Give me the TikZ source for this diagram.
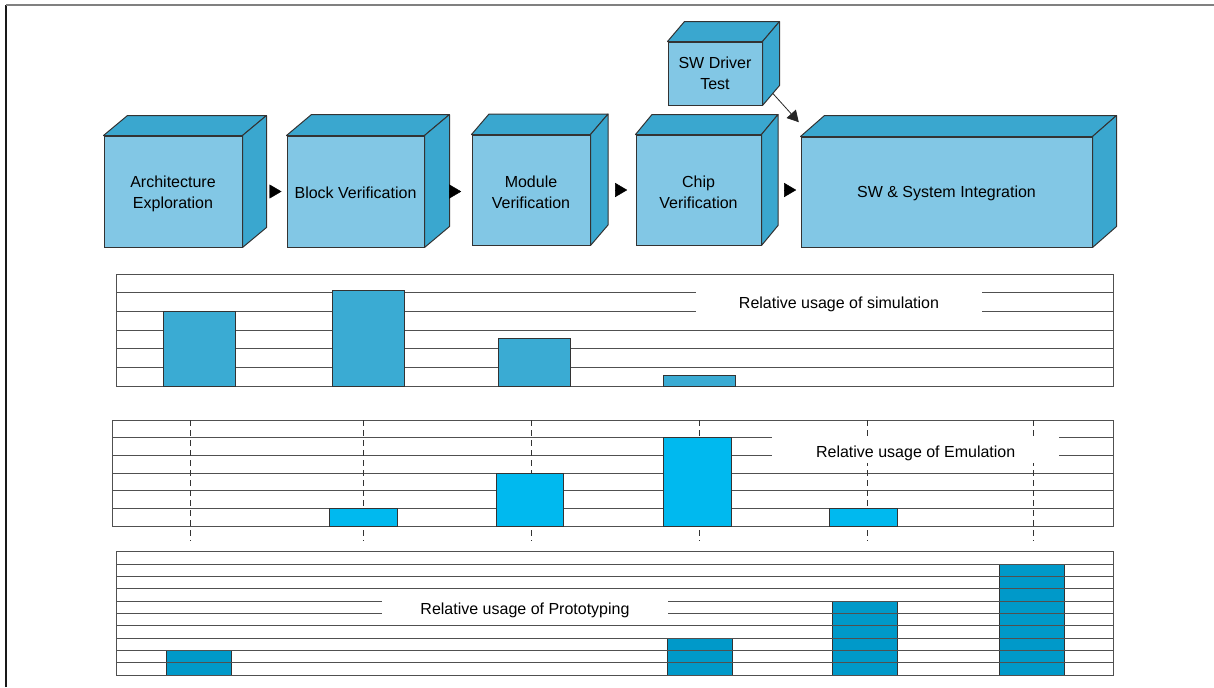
\documentclass[tikz,border=0pt]{standalone}
\usepackage{fontspec}
\setmainfont{Liberation Sans}
\usetikzlibrary{calc,arrows.meta}
\definecolor{cubefront}{HTML}{82C7E5}
\definecolor{cubeside}{HTML}{3AA7CF}
\definecolor{simbar}{HTML}{3AABD3}
\definecolor{emubar}{HTML}{00B9EF}
\definecolor{probar}{HTML}{0099C9}
\definecolor{edgecol}{HTML}{333333}
\definecolor{gridcol}{HTML}{505050}
\newcommand{\cubefaces}[3]{%
 \filldraw[sideface] (#1.north west) -- ++(#2,#3) -- ($(#1.north east)+(#2,#3)$) -- (#1.north east) -- cycle;
 \filldraw[sideface] (#1.north east) -- ++(#2,#3) -- ($(#1.south east)+(#2,#3)$) -- (#1.south east) -- cycle;}
\tikzset{
 txt/.style={font=\fontsize{12}{15.5}\selectfont},
 facetext/.style={txt, align=center, inner sep=0pt},
 frontface/.style={draw=edgecol, fill=cubefront, line width=0.75pt, inner sep=0pt},
 sideface/.style={draw=edgecol, fill=cubeside, line width=0.75pt, line join=round},
 flow/.style={-{Triangle[length=9pt,width=10.5pt]}, line width=0.3pt, draw=black, fill=black},
 diag/.style={-{Triangle[length=8.5pt,width=9.3pt]}, line width=0.6pt, draw=black!85},
 gridline/.style={draw=gridcol, line width=0.75pt},
 vdash/.style={draw=black!80, line width=0.6pt, dash pattern=on 4pt off 3.5pt},
 lbl/.style={fill=white, inner sep=0pt},
 simbarst/.style={draw=edgecol, fill=simbar, line width=0.75pt},
 emubarst/.style={draw=edgecol, fill=emubar, line width=0.75pt},
 probarst/.style={draw=edgecol, fill=probar, line width=0.75pt},
}
\begin{document}
\begin{tikzpicture}[x=0.75pt,y=-0.75pt]
\useasboundingbox (0,0) rectangle (1214,687);
% frame
\draw[black!90, line width=0.9pt] (6,687) -- (6,5);
\draw[black!50, line width=0.9pt] (6,5) -- (1214,5);

% cubes
\node[frontface, minimum width={138*0.75pt}, minimum height={111*0.75pt},
  label={[facetext, yshift=-1.9pt]center:{Architecture\\Exploration}}] (A) at (173,191.5) {};
\cubefaces{A}{24}{-20}
\node[frontface, minimum width={137*0.75pt}, minimum height={111*0.75pt},
  label={[facetext, yshift=-0.75pt]center:{Block Verification}}] (B) at (355.5,191.5) {};
\cubefaces{B}{25}{-21}
\node[frontface, minimum width={118*0.75pt}, minimum height={110*0.75pt},
  label={[facetext, yshift=-1.9pt]center:{Module\\Verification}}] (C) at (531,190) {};
\cubefaces{C}{17.5}{-20.5}
\node[frontface, minimum width={125*0.75pt}, minimum height={110*0.75pt},
  label={[facetext, yshift=-1.9pt]center:{Chip\\Verification}}] (D) at (698.5,190) {};
\cubefaces{D}{16.5}{-20}
\node[frontface, minimum width={94*0.75pt}, minimum height={63*0.75pt},
  label={[facetext]center:{SW Driver\\Test}}] (E) at (715,73.5) {};
\cubefaces{E}{17}{-20}
\node[frontface, minimum width={291*0.75pt}, minimum height={110*0.75pt},
  label={[facetext, yshift=-0.75pt]center:{SW \& System Integration}}] (F) at (946.5,192) {};
\cubefaces{F}{24}{-21}

% flow arrows
\draw[flow, shorten <=20.5pt, shorten >=3.75pt] (A.east) -- (A.east -| B.west);
\draw[flow, shorten <=19pt, shorten >=7.7pt] (B.east) -- (B.east -| C.west);
\draw[flow, shorten <=19pt, shorten >=6.2pt] (C.east) -- (C.east -| D.west);
\draw[flow, shorten <=17.5pt, shorten >=3.2pt] (D.east) -- (D.east -| F.west);
\draw[diag] ($(E.south east)+(10.3,-12.1)$) -- ($(F.north west)+(-1.7,-14.3)$);

% simulation panel
\draw[gridline] (116,274) rectangle (1113,386);
\foreach \k in {1,...,5} \draw[gridline] (116,{274+\k*18.667}) -- (1113,{274+\k*18.667});
\node[lbl, minimum width={286*0.75pt}, minimum height={21*0.75pt},
  label={[txt, yshift=-1.5pt]center:Relative usage of simulation}] (simlbl) at (839,302.3) {};
\filldraw[simbarst] (163,311.67) rectangle (235,386);
\filldraw[simbarst] (332,290) rectangle (404,386);
\filldraw[simbarst] (498,338.3) rectangle (570,386);
\filldraw[simbarst] (663,375) rectangle (735,386);

% emulation panel
\draw[gridline] (112,420.3) rectangle (1113,526);
\foreach \k in {1,...,5} \draw[gridline] (112,{420.3+\k*17.617}) -- (1113,{420.3+\k*17.617});
\foreach \x in {190.5,363.5,531,699.5,867.5,1033.5} \draw[vdash] (\x,420.3) -- (\x,541);
\node[lbl, minimum width={286.5*0.75pt}, minimum height={27*0.75pt},
  label={[txt, yshift=-2.6pt]center:Relative usage of Emulation}] (emulbl) at (915.7,449.5) {};
\filldraw[emubarst] (329,508.3) rectangle (397,526);
\filldraw[emubarst] (496,473.1) rectangle (563,526);
\filldraw[emubarst] (663,437.9) rectangle (731,526);
\filldraw[emubarst] (829,508.3) rectangle (897,526);

% prototyping panel
\filldraw[probarst] (166,650.3) rectangle (231,675);
\filldraw[probarst] (667,638.3) rectangle (732,675);
\filldraw[probarst] (832,601.3) rectangle (897,675);
\filldraw[probarst] (999,564.3) rectangle (1064,675);
\draw[gridline] (116,551.7) rectangle (1113,675);
\foreach \k in {1,...,9} \draw[gridline] (116,{551.7+\k*12.33}) -- (1113,{551.7+\k*12.33});
\node[lbl, minimum width={286.6*0.75pt}, minimum height={17*0.75pt},
  label={[txt, yshift=-2.25pt]center:Relative usage of Prototyping}] (prolbl) at (525,607.5) {};
\end{tikzpicture}
\end{document}
